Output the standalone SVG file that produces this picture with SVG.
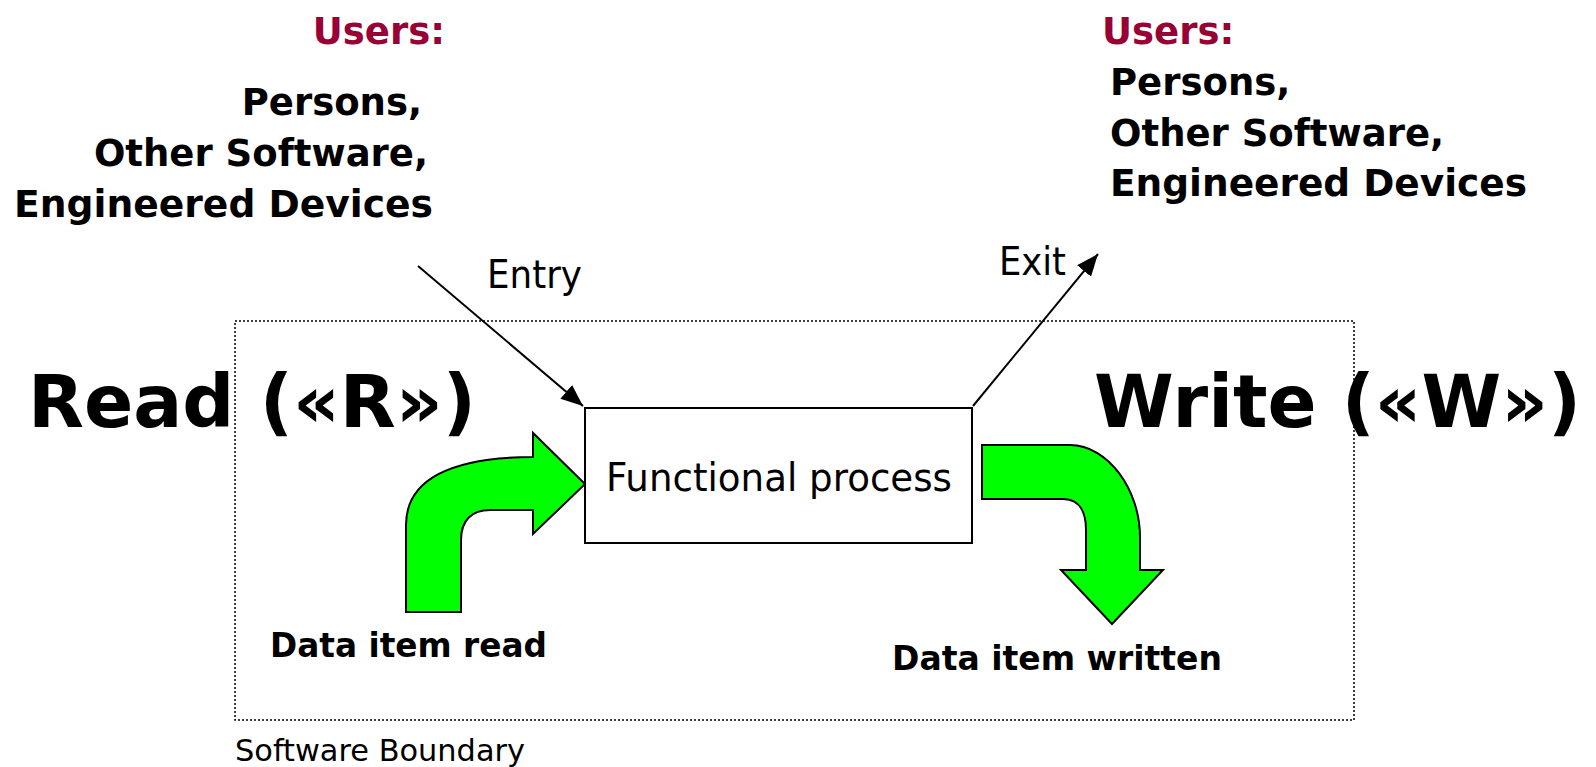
<svg xmlns="http://www.w3.org/2000/svg" width="1596" height="767" viewBox="0 0 1596 767">
  <style>
    .users { font-family: "DejaVu Sans", Verdana, sans-serif; font-weight: bold; font-size: 37px; fill: #990033; }
    .actor { font-family: "DejaVu Sans", Verdana, sans-serif; font-weight: bold; font-size: 37px; fill: #000; }
    .big { font-family: "DejaVu Sans", Verdana, sans-serif; font-weight: bold; font-size: 73px; fill: #000; }
    .item { font-family: "DejaVu Sans", Verdana, sans-serif; font-weight: bold; font-size: 33px; fill: #000; }
    .plain { font-family: "DejaVu Sans", Tahoma, sans-serif; font-size: 39px; fill: #000; }
    .small { font-family: "DejaVu Sans", Tahoma, sans-serif; font-size: 31px; fill: #000; }
    .flow { fill: #00ff00; stroke: #000; stroke-width: 2; stroke-linejoin: miter; }
    .conn { stroke: #000; stroke-width: 2; fill: none; }
  </style>
  <defs>
    <marker id="head" markerUnits="userSpaceOnUse" markerWidth="24" markerHeight="18" refX="22" refY="9" orient="auto">
      <path d="M0,0 L22,9 L0,18 Z" fill="#000"/>
    </marker>
  </defs>

  <rect x="0" y="0" width="1596" height="767" fill="#fff"/>

  <!-- software boundary -->
  <g id="boundary">
    <rect x="235" y="321" width="1119" height="399" fill="none" stroke="#000" stroke-width="1.5" stroke-dasharray="2 2"/>
    <text class="small" x="235" y="761" textLength="290" lengthAdjust="spacingAndGlyphs">Software Boundary</text>
  </g>

  <!-- users on the entry side -->
  <g id="users-in">
    <text class="users" x="445" y="44" text-anchor="end">Users:</text>
    <text class="actor" x="422" y="115" text-anchor="end">Persons,</text>
    <text class="actor" x="428" y="166" text-anchor="end">Other Software,</text>
    <text class="actor" x="433" y="217" text-anchor="end" textLength="419" lengthAdjust="spacingAndGlyphs">Engineered Devices</text>
  </g>

  <!-- users on the exit side -->
  <g id="users-out">
    <text class="users" x="1102" y="44">Users:</text>
    <text class="actor" x="1110" y="95">Persons,</text>
    <text class="actor" x="1110" y="146">Other Software,</text>
    <text class="actor" x="1110" y="196" textLength="417" lengthAdjust="spacingAndGlyphs">Engineered Devices</text>
  </g>

  <g id="read-label">
    <text class="big" x="28" y="427" textLength="448" lengthAdjust="spacingAndGlyphs">Read («R»)</text>
  </g>
  <g id="write-label">
    <text class="big" x="1094" y="427" textLength="487" lengthAdjust="spacingAndGlyphs">Write («W»)</text>
  </g>

  <!-- functional process -->
  <g id="functional-process">
    <rect x="585" y="408" width="387" height="135" fill="#fff" stroke="#000" stroke-width="2"/>
    <text class="plain" x="606" y="491" textLength="346" lengthAdjust="spacingAndGlyphs">Functional process</text>
  </g>

  <!-- data movements -->
  <g id="data-read">
    <path class="flow" d="M406,612 L406,525 C406,480 450,457 533,457 L533,433 L585,484 L533,534 L533,510 L490,510 C472,510 461,520 461,540 L461,612 Z"/>
    <text class="item" x="270" y="657" textLength="277" lengthAdjust="spacingAndGlyphs">Data item read</text>
  </g>
  <g id="data-written">
    <path class="flow" d="M982,445 L1070,445 C1108,445 1140,490 1140,537 L1140,570 L1163,570 L1112,624 L1061,570 L1086,570 L1086,530 C1086,510 1078,499 1063,499 L982,499 Z"/>
    <text class="item" x="892" y="670" textLength="330" lengthAdjust="spacingAndGlyphs">Data item written</text>
  </g>

  <!-- entry and exit connectors -->
  <g id="connectors">
    <line class="conn" x1="418" y1="266" x2="583" y2="406" marker-end="url(#head)"/>
    <line class="conn" x1="973" y1="406" x2="1098" y2="254" marker-end="url(#head)"/>
    <text class="plain" x="487" y="288" textLength="95" lengthAdjust="spacingAndGlyphs">Entry</text>
    <text class="plain" x="999" y="275" textLength="67" lengthAdjust="spacingAndGlyphs">Exit</text>
  </g>
</svg>
